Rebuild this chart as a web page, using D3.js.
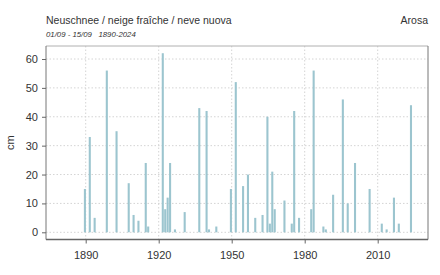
<!DOCTYPE html>
<html>
<head>
<meta charset="utf-8">
<script src="https://cdn.jsdelivr.net/npm/d3@7"></script>
<style>
  body { margin: 0; background: white; }
  text { font-family: "Liberation Sans", Arial, sans-serif; fill: #333; }
</style>
</head>
<body>
<div id="chart"></div>
<script>
// new snow per year, 01/09 - 15/09 (years without snow are left out)
var years  = [1890, 1892, 1894, 1899, 1903, 1908, 1910, 1912, 1915, 1916,
              1922, 1923, 1924, 1925, 1927, 1931, 1937, 1940, 1941, 1944,
              1950, 1952, 1955, 1957, 1960, 1963, 1965, 1966, 1967, 1968,
              1972, 1975, 1976, 1978, 1983, 1984, 1988, 1989, 1992, 1996,
              1998, 2001, 2007, 2012, 2014, 2017, 2019, 2024]
var snow   = [15, 33, 5, 56, 35, 17, 6, 4, 24, 2,
              62, 8, 12, 24, 1, 7, 43, 42, 1, 2,
              15, 52, 16, 20, 5, 6, 40, 3, 21, 8,
              11, 3, 42, 5, 8, 56, 2, 1, 13, 46,
              10, 24, 15, 3, 1, 12, 3, 44]
var xTicks = [1890, 1920, 1950, 1980, 2010]
var yTicks = [0, 10, 20, 30, 40, 50, 60]

var data = years.map(function(y, i) { return {year: y, value: snow[i]} })

var svgWidth  = 440
var svgHeight = 275
// plot box (note: "top" is taken by window.top, so prefix everything)
var boxLeft = 46, boxRight = 428, boxTop = 46, boxBottom = 239.5

var svg = d3.select("#chart")
.append("svg")
.attr("width", svgWidth)
.attr("height", svgHeight)

var x = d3.scaleLinear()
.domain([1890, 2010])
.range([85.7, 377.7])

var y = d3.scaleLinear()
.domain([0, 60])
.range([232.3, 59])

// grid (dotted)
svg.selectAll(".hgrid")
.data(yTicks)
.enter()
.append("line")
.attr("x1", boxLeft).attr("x2", boxRight)
.attr("y1", function(d){ return y(d) }).attr("y2", function(d){ return y(d) })
.attr("stroke", "#d4d4d4")
.attr("stroke-dasharray", "1.5,2")

svg.selectAll(".vgrid")
.data(xTicks)
.enter()
.append("line")
.attr("x1", function(d){ return x(d) }).attr("x2", function(d){ return x(d) })
.attr("y1", boxTop).attr("y2", boxBottom)
.attr("stroke", "#d4d4d4")
.attr("stroke-dasharray", "1.5,2")

// bars, centred a little left of the year
var step = x(1) - x(0)
svg.selectAll(".bar")
.data(data)
.enter()
.append("rect")
.attr("x", function(d){ return x(d.year - 0.75) })
.attr("width", step - 0.35)
.attr("y", function(d){ return y(d.value) })
.attr("height", function(d){ return y(0) - y(d.value) })
.attr("fill", "#9cc5cf")

// frame
svg.append("line")
.attr("x1", boxLeft).attr("x2", boxRight).attr("y1", boxTop).attr("y2", boxTop)
.attr("stroke", "#b0b0b0")
svg.append("line")
.attr("x1", boxRight).attr("x2", boxRight).attr("y1", boxTop).attr("y2", boxBottom)
.attr("stroke", "#777")
svg.append("line")
.attr("x1", boxLeft).attr("x2", boxLeft).attr("y1", boxTop).attr("y2", boxBottom)
.attr("stroke", "#777")
svg.append("line")
.attr("x1", boxLeft).attr("x2", boxRight).attr("y1", boxBottom).attr("y2", boxBottom)
.attr("stroke", "#666")
.attr("stroke-width", 1.5)

// axes
svg.append("g")
.attr("transform", "translate(" + boxLeft + ",0)")
.call(d3.axisLeft(y).tickValues(yTicks).tickSize(4).tickPadding(4))
svg.append("g")
.attr("transform", "translate(0," + boxBottom + ")")
.call(d3.axisBottom(x).tickValues(xTicks).tickFormat(d3.format("d")).tickSize(4).tickPadding(8))
svg.selectAll(".domain").remove()
svg.selectAll(".tick line").attr("stroke", "#666")
svg.selectAll(".tick text")
.style("font-family", "Liberation Sans, Arial, sans-serif")
.style("font-size", "11px")
.attr("fill", "#333")

// axis title
svg.append("text")
.attr("transform", "translate(14," + ((boxTop + boxBottom) / 2) + ") rotate(-90)")
.attr("text-anchor", "middle")
.style("font-size", "11px")
.text("cm")

// titles
svg.append("text")
.attr("x", boxLeft).attr("y", 24)
.style("font-size", "10.5px")
.text("Neuschnee / neige fraîche / neve nuova")
svg.append("text")
.attr("x", boxRight).attr("y", 24)
.attr("text-anchor", "end")
.style("font-size", "10.5px")
.text("Arosa")
svg.append("text")
.attr("x", boxLeft).attr("y", 37)
.style("font-size", "7.8px")
.style("font-style", "italic")
.attr("xml:space", "preserve")
.text("01/09 - 15/09   1890-2024")
</script>
</body>
</html>
